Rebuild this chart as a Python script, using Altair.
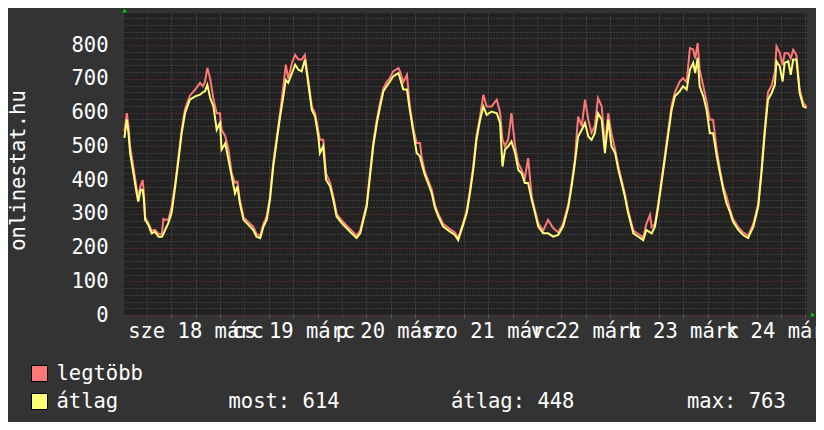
import json
import altair as alt
import pandas as pd

# ---- data (hours relative to midnight, 18 March) ----
hours = [
    -5.5, -4.9, -4.5, -4.1, -3.3, -2.5, -2.1, -1.5, -1.0, -0.7, -0.4, 0.4, 1.2, 2.0, 2.9, 3.7, 4.1, 4.5, 5.3, 6.1,
    7.0, 7.8, 8.6, 9.4, 10.6, 11.9, 13.1, 13.8, 14.3, 14.9, 15.6, 16.4, 17.2, 18.0, 18.4, 19.3, 20.1, 20.9, 21.7, 22.3,
    22.9, 23.8, 25.0, 26.2, 27.0, 27.9, 28.7, 29.5, 30.3, 31.1, 32.0, 32.8, 33.6, 34.2, 34.8, 35.7, 36.5, 37.3, 38.1, 38.9,
    39.7, 40.6, 41.4, 42.2, 42.6, 43.4, 44.1, 45.1, 45.9, 46.7, 48.0, 49.2, 50.4, 51.6, 52.5, 53.3, 54.1, 54.9, 55.7, 56.6,
    57.4, 58.2, 59.0, 59.8, 60.6, 61.9, 62.3, 63.1, 64.0, 64.7, 65.6, 66.4, 67.2, 67.6, 68.4, 69.2, 70.1, 70.9, 71.7, 72.9,
    74.6, 75.8, 76.6, 77.8, 78.7, 79.5, 80.3, 81.1, 82.0, 82.8, 83.6, 84.8, 86.1, 86.9, 87.5, 88.1, 88.9, 89.7, 90.6, 91.4,
    92.2, 93.0, 93.8, 94.7, 95.5, 96.3, 97.5, 98.7, 100.0, 101.2, 102.4, 103.7, 104.5, 105.3, 106.1, 107.0, 107.8, 108.6, 109.4, 110.2,
    111.0, 111.9, 112.7, 113.5, 114.3, 115.2, 116.0, 116.8, 117.6, 118.4, 119.7, 120.9, 122.1, 122.9, 123.8, 124.2, 125.0, 125.8, 126.6, 127.4,
    128.3, 129.1, 129.9, 131.1, 131.9, 132.8, 133.6, 134.4, 134.9, 135.5, 136.0, 136.9, 137.7, 138.5, 139.3, 140.2, 141.0, 141.8, 142.6, 143.4,
    144.2, 145.5, 146.7, 147.9, 149.2, 150.4, 151.2, 152.0, 152.8, 153.7, 154.5, 154.9, 155.7, 156.4, 156.9, 157.8, 158.4, 159.0, 159.8, 160.6,
    161.5, 162.3,
]
avg_vals = [
    525, 579, 540, 480, 421, 362, 336, 371, 371, 341, 282, 267, 242, 247, 232, 232, 240, 252, 272, 302,
    381, 460, 540, 598, 638, 648, 653, 660, 663, 682, 643, 618, 549, 569, 490, 509, 460, 410, 361, 381,
    331, 282, 267, 252, 232, 228, 262, 282, 341, 440, 519, 588, 648, 697, 688, 717, 742, 727, 722, 757,
    688, 608, 588, 529, 480, 500, 401, 381, 341, 292, 272, 257, 242, 228, 242, 282, 321, 410, 500, 569,
    618, 663, 678, 692, 707, 717, 702, 668, 668, 608, 539, 480, 470, 450, 415, 391, 361, 317, 292, 262,
    247, 237, 222, 267, 302, 361, 430, 519, 579, 618, 593, 603, 598, 569, 440, 490, 500, 514, 480, 430,
    420, 391, 391, 341, 302, 262, 242, 242, 232, 237, 262, 321, 381, 450, 529, 549, 569, 529, 519, 539,
    598, 579, 480, 579, 500, 480, 430, 391, 351, 302, 242, 232, 222, 252, 245, 242, 262, 321, 391, 460,
    539, 608, 648, 663, 678, 668, 727, 747, 717, 762, 678, 648, 608, 539, 539, 470, 420, 371, 331, 307,
    277, 252, 237, 228, 262, 321, 420, 539, 638, 658, 682, 752, 737, 692, 747, 752, 712, 757, 757, 658,
    618, 614,
]
max_vals = [
    545, 598, 560, 500, 440, 375, 350, 385, 400, 360, 290, 272, 250, 252, 240, 240, 285, 282, 282, 320,
    390, 470, 550, 610, 650, 668, 688, 678, 690, 732, 700, 640, 598, 598, 549, 530, 490, 420, 392, 395,
    340, 290, 275, 262, 240, 235, 270, 292, 350, 450, 530, 600, 678, 742, 700, 747, 771, 757, 757, 771,
    700, 618, 598, 545, 519, 519, 420, 392, 350, 300, 280, 265, 250, 235, 250, 290, 330, 420, 510, 580,
    630, 672, 690, 702, 722, 732, 722, 690, 712, 620, 550, 510, 510, 470, 425, 400, 372, 325, 300, 270,
    255, 245, 228, 272, 310, 370, 440, 530, 590, 653, 618, 618, 638, 600, 520, 500, 520, 598, 500, 450,
    430, 405, 465, 350, 310, 272, 250, 282, 257, 245, 270, 330, 390, 460, 588, 560, 638, 579, 540, 560,
    643, 618, 500, 598, 539, 490, 440, 400, 360, 310, 250, 240, 230, 270, 297, 260, 270, 330, 400, 470,
    550, 620, 660, 692, 702, 690, 791, 787, 760, 806, 727, 678, 633, 579, 579, 490, 430, 380, 352, 315,
    285, 260, 245, 235, 270, 330, 430, 550, 660, 680, 720, 796, 776, 740, 776, 776, 760, 786, 770, 668,
    628, 618,
]
series_names = ["legtöbb", "átlag"]
series_colors = ["#ff7777", "#ffff77"]
day_labels = ["sze 18 márc", "cs 19 márc", "p 20 márc", "szo 21 márc", "v 22 márc", "h 23 márc", "k 24 márc"]
day_label_hours = [12, 36, 60, 84, 108, 132, 156]
stat_texts = ["most: 614", "átlag: 448", "max: 763"]
y_grid = list(range(0, 881, 20))
x_grid = list(range(0, 163, 6))
y_title = "onlinestat.hu"

# ---- styling ----
FONT = "DejaVu Sans Mono"
FS = 20.5
OUTER_BG = "#333333"
PLOT_BG = "#222222"
MINOR = "#5a5a5a"
MAJOR = "#7a3434"
W, H = 683, 302

n = len(hours)
df = pd.DataFrame({
    "h": hours + hours,
    "v": max_vals + avg_vals,
    "s": [series_names[0]] * n + [series_names[1]] * n,
})

lab_arr = json.dumps(day_labels, ensure_ascii=False)
pos_arr = json.dumps(day_label_hours)
x_label_expr = f"indexof({pos_arr}, datum.value) >= 0 ? {lab_arr}[indexof({pos_arr}, datum.value)] : ''"

x_axis = alt.Axis(
    values=x_grid, grid=True,
    gridColor=alt.condition("datum.value % 24 === 0", alt.value(MAJOR), alt.value(MINOR)),
    gridDash=[1, 2], gridOpacity=1, gridWidth=1,
    ticks=True, tickSize=3,
    tickColor=alt.condition("datum.value % 24 === 0", alt.value(MAJOR), alt.value(MINOR)),
    labelExpr=x_label_expr, labelOverlap=False, labelFlush=False, labelBound=False,
    labelFont=FONT, labelFontSize=FS, labelColor="white", labelBaseline="alphabetic",
    labelPadding=19.5, domain=False, title=None,
)
y_axis = alt.Axis(
    values=y_grid, grid=True,
    gridColor=alt.condition("datum.value % 100 === 0", alt.value(MAJOR), alt.value(MINOR)),
    gridDash=[1, 2], gridOpacity=1, gridWidth=1,
    ticks=False, domain=False,
    labelExpr="datum.value % 100 === 0 ? datum.label : ''",
    labelFont=FONT, labelFontSize=FS, labelColor="white", labelBaseline="middle",
    labelPadding=16, labelOverlap=False, labelBound=False, labelFlush=False,
    title=y_title, titleFont=FONT, titleFontSize=FS, titleFontWeight="normal",
    titleColor="white", titleAngle=270, titleX=-106, titleY=157,
    titleAlign="center", titleBaseline="middle",
)

color_scale = alt.Scale(domain=series_names, range=series_colors)
x_enc = alt.X("h:Q", scale=alt.Scale(domain=[-5.6, 162.4], nice=False, zero=False), axis=x_axis)
y_enc = alt.Y("v:Q", scale=alt.Scale(domain=[0, 895], nice=False, zero=True), axis=y_axis)

base = alt.Chart(df)
line_max = base.transform_filter(alt.datum.s == series_names[0]).mark_line(strokeWidth=2).encode(
    x=x_enc, y=y_enc, color=alt.Color("s:N", scale=color_scale, legend=None))
line_avg = base.transform_filter(alt.datum.s == series_names[1]).mark_line(strokeWidth=2).encode(
    x=x_enc, y=y_enc, color=alt.Color("s:N", scale=color_scale, legend=None))

layers = [line_max, line_avg]

# legend boxes and texts
box_y = [352, 380]
text_y = [367, 395]
for i, name in enumerate(series_names):
    d = pd.DataFrame({"t": [name]})
    layers.append(alt.Chart(d).mark_rect(fill=series_colors[i], stroke="black", strokeWidth=1).encode(
        x=alt.value(-92.5), x2=alt.value(-76.5), y=alt.value(box_y[i] + 0.5), y2=alt.value(box_y[i] + 16.5)))
    layers.append(alt.Chart(d).mark_text(align="left", baseline="alphabetic", font=FONT, fontSize=FS,
                                         color="white").encode(
        x=alt.value(-67.5), y=alt.value(text_y[i]), text="t:N"))

stat_x = [104.5, 327, 563]
for i, s in enumerate(stat_texts):
    d = pd.DataFrame({"t": [s]})
    layers.append(alt.Chart(d).mark_text(align="left", baseline="alphabetic", font=FONT, fontSize=FS,
                                         color="white").encode(
        x=alt.value(stat_x[i]), y=alt.value(text_y[1]), text="t:N"))

# axis arrows
one = pd.DataFrame({"a": [0]})
layers.append(alt.Chart(one).mark_point(shape="triangle-up", filled=True, color="#00cc00", size=22, opacity=1).encode(
    x=alt.value(0.5), y=alt.value(-2.5)))
layers.append(alt.Chart(one).mark_point(shape="triangle-right", filled=True, color="#00cc00", size=22, opacity=1).encode(
    x=alt.value(689), y=alt.value(302)))

chart = alt.layer(*layers).properties(
    width=W, height=H,
    autosize=alt.AutoSizeParams(type="none"),
    padding={"left": 116, "top": 5, "right": 9, "bottom": 107},
    background=OUTER_BG,
).configure_view(fill=PLOT_BG, stroke=None)

chart.save("out.html", embed_options={"renderer": "svg", "actions": False})
